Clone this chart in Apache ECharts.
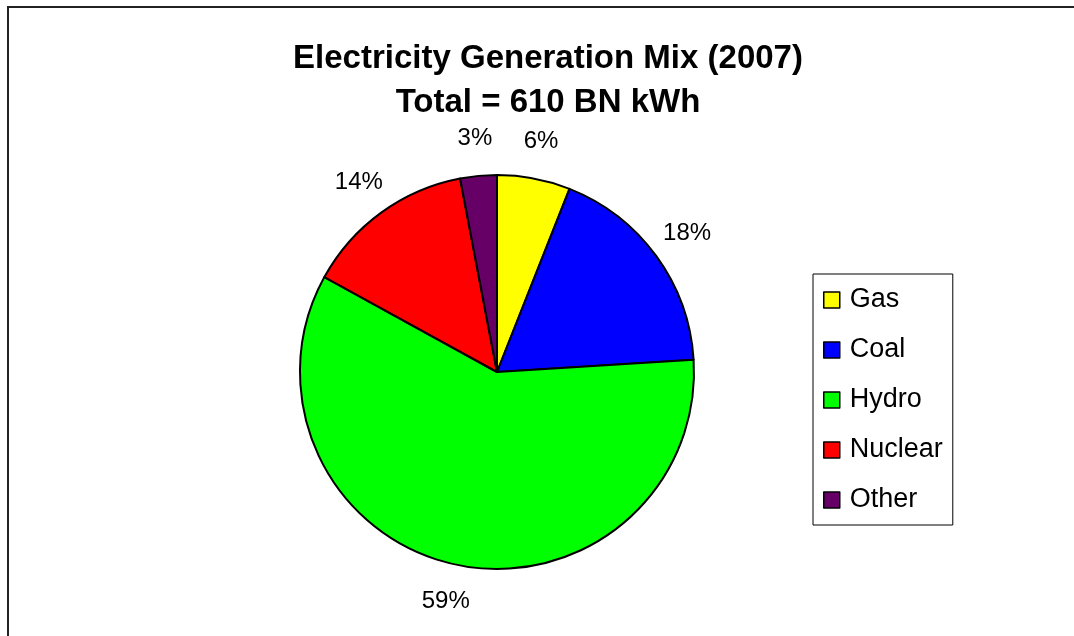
<!DOCTYPE html>
<html>
<head>
<meta charset="utf-8">
<script src="https://cdn.jsdelivr.net/npm/echarts@6/dist/echarts.min.js"></script>
<style>
  html, body { margin: 0; padding: 0; background: #fff; }
  #chart { width: 1074px; height: 636px; }
</style>
</head>
<body>
<div id="chart"></div>
<script>
const categories = ['Gas', 'Coal', 'Hydro', 'Nuclear', 'Other'];
const shares = [6, 18, 59, 14, 3];
const colors = ['#ffff00', '#0000ff', '#00ff00', '#ff0000', '#660066'];

const chart = echarts.init(document.getElementById('chart'));

const option = {
    backgroundColor: '#fff',
    animation: false,
    graphic: [{
        type: 'rect',
        shape: { x: 8, y: 7, width: 1200, height: 800 },
        style: { fill: 'none', stroke: '#222', lineWidth: 2 },
        silent: true
    }],
    title: {
        text: 'Electricity Generation Mix (2007)\nTotal = 610 BN kWh',
        left: 543,
        top: 32,
        textAlign: 'center',
        textStyle: {
            fontFamily: "'Liberation Sans', Arial, sans-serif",
            fontSize: 33,
            fontWeight: 'bold',
            lineHeight: 44,
            color: '#000'
        }
    },
    legend: {
        orient: 'vertical',
        left: 813,
        top: 274,
        padding: [12, 10, 11, 10],
        borderColor: '#000',
        borderWidth: 1,
        icon: 'rect',
        itemWidth: 16,
        itemHeight: 16,
        itemGap: 22,
        itemStyle: { borderColor: '#000', borderWidth: 1.5 },
        textStyle: {
            fontFamily: "'Liberation Sans', Arial, sans-serif",
            fontSize: 27,
            lineHeight: 28,
            color: '#000',
            padding: [0, 0, 0, 5]
        },
        data: categories
    },
    series: [{
        type: 'pie',
        center: [497, 372],
        radius: 197,
        startAngle: 90,
        clockwise: true,
        color: colors,
        itemStyle: { borderColor: '#000', borderWidth: 2 },
        emphasis: { disabled: true },
        label: {
            show: true,
            position: 'outside',
            formatter: '{d}%',
            fontFamily: "'Liberation Sans', Arial, sans-serif",
            fontSize: 24,
            color: '#000'
        },
        labelLine: { show: false, length: 38, length2: 0 },
        labelLayout: function (params) {
            const pts = params.labelLinePoints;
            const r = params.labelRect;
            if (pts && pts.length) {
                const end = pts[pts.length - 1];
                return { x: end[0], y: end[1], align: 'center', verticalAlign: 'middle' };
            }
            return { x: r.x + r.width / 2, y: r.y + r.height / 2, align: 'center', verticalAlign: 'middle' };
        },
        data: categories.map((name, i) => ({ name: name, value: shares[i] }))
    }]
};

chart.setOption(option);
</script>
</body>
</html>
